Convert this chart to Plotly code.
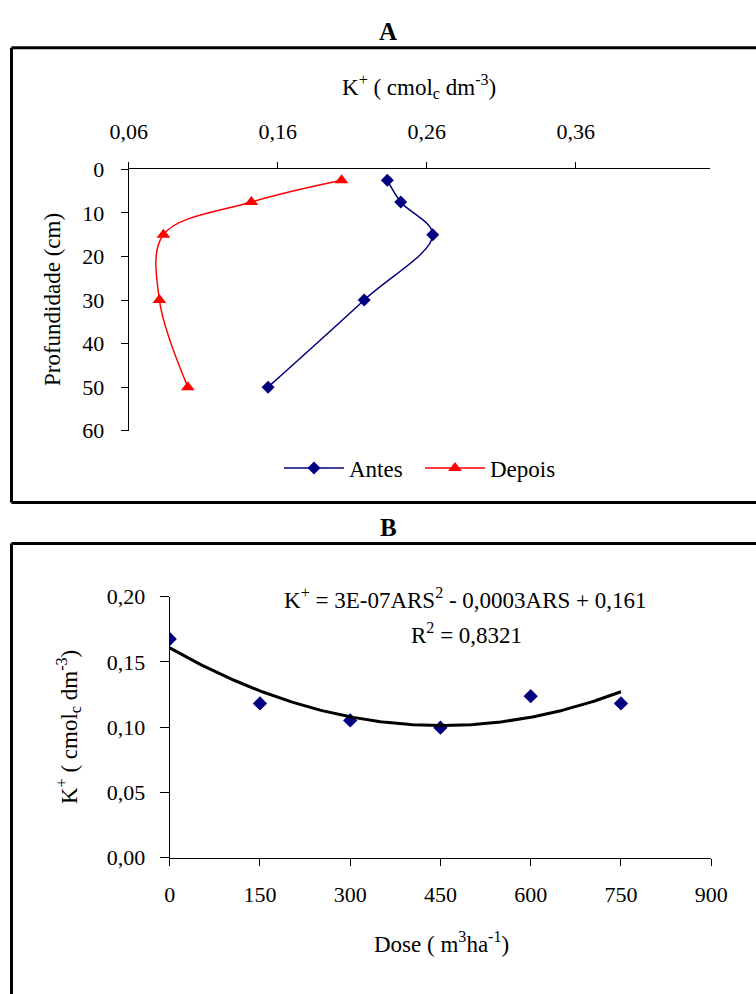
import numpy as np
import plotly.graph_objects as go

# ---- Panel A: K+ soil profile before/after ----
depth_cm = [2.5, 7.5, 15, 30, 50]
k_antes = [0.2335, 0.2425, 0.264, 0.218, 0.1535]
k_depois = [0.2028, 0.1423, 0.0833, 0.0806, 0.0997]
a_xticks = [0.06, 0.16, 0.26, 0.36]
a_yticks = [0, 10, 20, 30, 40, 50, 60]

# ---- Panel B: K+ versus dose ----
dose = [0, 150, 300, 450, 600, 750]
k_dose = [0.1676, 0.1182, 0.1052, 0.0996, 0.1238, 0.1182]
b_xticks = [0, 150, 300, 450, 600, 750, 900]
b_yticks = [0.0, 0.05, 0.10, 0.15, 0.20]
eq_text = "K<sup>+</sup> = 3E-07ARS<sup>2</sup> - 0,0003ARS + 0,161"
r2_text = "R<sup>2</sup> = 0,8321"

W, H = 756, 994
SERIF = "Liberation Serif, Times New Roman, serif"
NAVY = "#000080"
RED = "#FF0000"


def px_x(v):
    return v / W


def px_y(v):
    return 1 - v / H


# quadratic trendline fitted to the dose data
coef = np.polyfit(dose, k_dose, 2)
dose_fine = np.linspace(0, 750, 151)
k_fit = np.polyval(coef, dose_fine)

fig = go.Figure()
fig.add_trace(go.Scatter(
    x=k_antes, y=depth_cm, name="Antes", xaxis="x", yaxis="y",
    mode="lines+markers", line=dict(color=NAVY, width=1.5, shape="spline"),
    marker=dict(symbol="diamond", size=10, color=NAVY),
))
fig.add_trace(go.Scatter(
    x=k_depois, y=depth_cm, name="Depois", xaxis="x", yaxis="y",
    mode="lines+markers", line=dict(color=RED, width=1.5, shape="spline"),
    marker=dict(symbol="triangle-up", size=12, color=RED),
))
fig.add_trace(go.Scatter(
    x=dose, y=k_dose, xaxis="x2", yaxis="y2", mode="markers",
    marker=dict(symbol="diamond", size=11, color=NAVY), showlegend=False,
))
fig.add_trace(go.Scatter(
    x=dose_fine, y=k_fit, xaxis="x2", yaxis="y2", mode="lines",
    line=dict(color="black", width=3), showlegend=False,
))

tickfont = dict(family=SERIF, size=22, color="black")
axis_common = dict(showline=True, linecolor="black", linewidth=1, ticks="outside",
                   tickcolor="black", showgrid=False, zeroline=False,
                   automargin=False, tickfont=tickfont)

fig.update_layout(
    template="none",
    width=W, height=H, autosize=False,
    margin=dict(l=0, r=0, t=0, b=0, pad=0, autoexpand=False),
    paper_bgcolor="white", plot_bgcolor="white",
    separators=",.",
    font=dict(family=SERIF, size=22, color="black"),
    xaxis=dict(domain=[px_x(128.7), px_x(710)], range=[0.06, 0.45], side="top",
               anchor="y", tickvals=a_xticks, tickformat=".2f", ticklen=6,
               ticklabelstandoff=15, **axis_common),
    yaxis=dict(domain=[px_y(430.7), px_y(169.3)], range=[60, 0], anchor="x",
               tickvals=a_yticks, ticklen=7, ticklabelstandoff=12, **axis_common),
    xaxis2=dict(domain=[px_x(169.7), px_x(711.2)], range=[0, 900], anchor="y2",
                tickvals=b_xticks, ticklen=7, ticklabelstandoff=10, **axis_common),
    yaxis2=dict(domain=[px_y(857.7), px_y(596.7)], range=[0, 0.2], anchor="x2",
                tickvals=b_yticks, tickformat=".2f", ticklen=9,
                ticklabelstandoff=10, **axis_common),
    legend=dict(orientation="h", x=px_x(279), y=px_y(468), xanchor="left",
                yanchor="middle", font=dict(family=SERIF, size=23),
                itemwidth=60, entrywidth=66, bgcolor="rgba(0,0,0,0)"),
)

# panel frames
frame = dict(type="line", xref="paper", yref="paper", line=dict(color="black", width=3))
fig.add_shape(x0=px_x(11.5), x1=1.01, y0=px_y(47.7), y1=px_y(47.7), **frame)
fig.add_shape(x0=px_x(11.5), x1=px_x(11.5), y0=px_y(47.7), y1=px_y(502.5), **frame)
fig.add_shape(x0=px_x(11.5), x1=1.01, y0=px_y(502.5), y1=px_y(502.5), **frame)
fig.add_shape(x0=px_x(11.5), x1=1.01, y0=px_y(543.5), y1=px_y(543.5), **frame)
fig.add_shape(x0=px_x(11.5), x1=px_x(11.5), y0=px_y(543.5), y1=-0.01, **frame)

ann = dict(xref="paper", yref="paper", showarrow=False, xanchor="center",
           yanchor="middle", font=dict(family=SERIF, size=23))
bold = {**ann, "font": dict(family=SERIF, size=25)}
fig.add_annotation(x=px_x(388), y=px_y(31), text="<b>A</b>", **bold)
fig.add_annotation(x=px_x(388), y=px_y(527), text="<b>B</b>", **bold)
fig.add_annotation(x=px_x(419), y=px_y(86),
                   text="K<sup>+</sup> ( cmol<sub>c</sub> dm<sup>-3</sup>)", **ann)
fig.add_annotation(x=px_x(52), y=px_y(300), text="Profundidade (cm)", textangle=-90, **ann)
fig.add_annotation(x=px_x(68), y=px_y(727),
                   text="K<sup>+</sup> ( cmol<sub>c</sub> dm<sup>-3</sup>)", textangle=-90, **ann)
fig.add_annotation(x=px_x(441), y=px_y(942), text="Dose ( m<sup>3</sup>ha<sup>-1</sup>)", **ann)
fig.add_annotation(x=px_x(465), y=px_y(598), text=eq_text, **ann)
fig.add_annotation(x=px_x(466), y=px_y(633), text=r2_text, **ann)

fig.write_html("out.html")
